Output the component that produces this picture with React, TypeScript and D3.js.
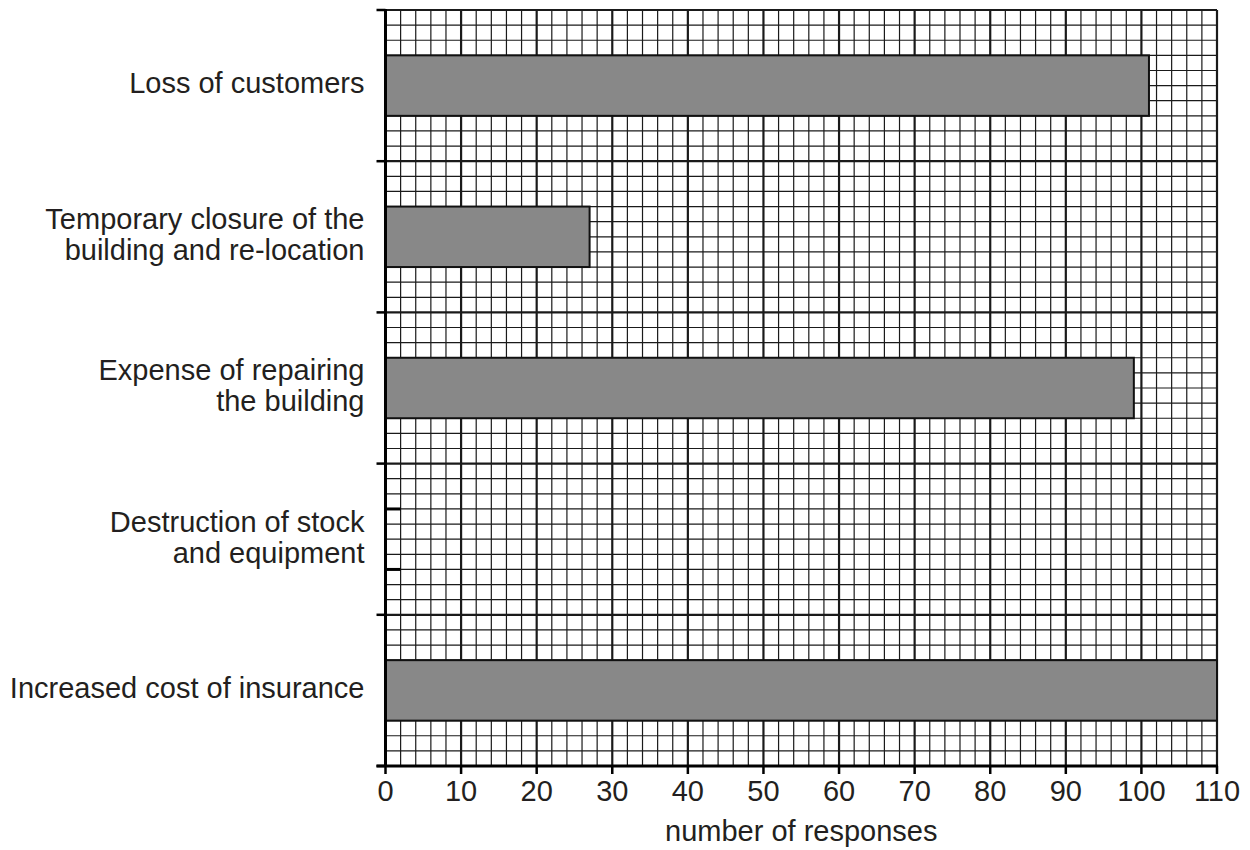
import React from 'react';
import { scaleLinear, scaleBand, range } from 'd3';

// categories top to bottom, each label split into its lines
const categories = [
  'Loss of customers',
  'Temporary closure',
  'Expense of repairing',
  'Destruction of stock',
  'Increased cost of insurance',
];
const labelLines = [
  ['Loss of customers'],
  ['Temporary closure of the', 'building and re-location'],
  ['Expense of repairing', 'the building'],
  ['Destruction of stock', 'and equipment'],
  ['Increased cost of insurance'],
];
const responses = [101, 27, 99, 2, 110];
const xTicks = [0, 10, 20, 30, 40, 50, 60, 70, 80, 90, 100, 110];
const xTitle = 'number of responses';

const W = 1250;
const H = 850;
const margin = { top: 10, right: 33, bottom: 84, left: 385.5 };
const innerW = W - margin.left - margin.right;
const innerH = H - margin.top - margin.bottom;

const ink = '#231f20';
const font = '"Liberation Sans", Arial, Helvetica, sans-serif';
const fs = 29;

export default function App() {
  const x = scaleLinear().domain([0, 110]).range([0, innerW]);
  const y = scaleBand().domain(categories).range([0, innerH]).padding(0);
  const bw = y.bandwidth();
  // ten grid rows per category band
  const rowY = scaleLinear().domain([0, categories.length * 10]).range([0, innerH]);
  const minorX = range(0, 111, 2);
  const minorY = range(0, categories.length * 10 + 1);

  return (
    <svg width={W} height={H} style={{ position: 'absolute', left: 0, top: 0, background: '#fff' }}>
      <g transform={`translate(${margin.left},${margin.top})`}>
        {/* grid */}
        {minorX.map(v => (
          <line key={'vx' + v} x1={x(v)} x2={x(v)} y1={0} y2={innerH}
            stroke="#1a1a1a" strokeWidth={v % 10 === 0 ? 2.2 : 1.2} />
        ))}
        {minorY.map(r => (
          <line key={'hy' + r} x1={0} x2={innerW} y1={rowY(r)} y2={rowY(r)}
            stroke="#1a1a1a" strokeWidth={r % 10 === 0 ? 2.2 : 1.2} />
        ))}

        {/* bars */}
        {categories.map((c, i) => {
          const y0 = (y(c) as number) + bw * 0.3;
          const h = bw * 0.4;
          const w = x(responses[i]) - x(0);
          if (responses[i] <= 2) {
            return (
              <g key={c}>
                <line x1={0} x2={w} y1={y0} y2={y0} stroke="#000" strokeWidth={3} />
                <line x1={0} x2={w} y1={y0 + h} y2={y0 + h} stroke="#000" strokeWidth={3} />
              </g>
            );
          }
          return (
            <rect key={c} x={x(0)} y={y0} width={w} height={h}
              fill="#888888" stroke="#111" strokeWidth={2} />
          );
        })}

        {/* y axis */}
        <line x1={0} x2={0} y1={-1} y2={innerH + 1} stroke="#000" strokeWidth={3} />
        {range(0, categories.length + 1).map(k => (
          <line key={'yt' + k} x1={-9} x2={0} y1={rowY(k * 10)} y2={rowY(k * 10)}
            stroke="#000" strokeWidth={2.5} />
        ))}
        {categories.map((c, i) => {
          const cy = (y(c) as number) + bw / 2;
          const lines = labelLines[i];
          const lh = 31;
          const first = cy - ((lines.length - 1) * lh) / 2 + fs * 0.27;
          return (
            <text key={c} x={-21} textAnchor="end" fontFamily={font} fontSize={fs} fill={ink}>
              {lines.map((l, j) => (
                <tspan key={j} x={-21} y={first + j * lh}>{l}</tspan>
              ))}
            </text>
          );
        })}

        {/* x axis */}
        <line x1={-9} x2={innerW + 1} y1={innerH} y2={innerH} stroke="#000" strokeWidth={3} />
        {xTicks.map(t => (
          <g key={'xt' + t} transform={`translate(${x(t)},${innerH})`}>
            <line y1={0} y2={8} stroke="#000" strokeWidth={2.5} />
            <text y={35} textAnchor="middle" fontFamily={font} fontSize={fs} fill={ink}>{t}</text>
          </g>
        ))}
        <text x={innerW / 2} y={innerH + 75} textAnchor="middle" fontFamily={font} fontSize={fs} fill={ink}>
          {xTitle}
        </text>
      </g>
    </svg>
  );
}
